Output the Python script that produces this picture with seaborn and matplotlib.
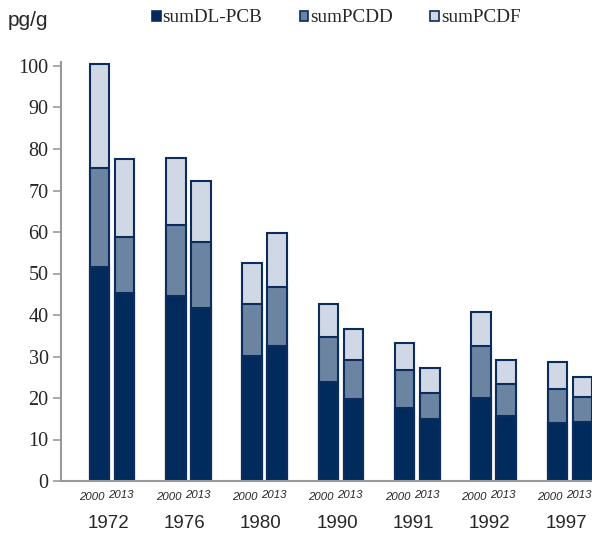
import matplotlib
matplotlib.use("Agg")
import matplotlib.pyplot as plt
import pandas as pd
import seaborn as sns
from matplotlib.patches import Patch

# ---- data ----
years = ["1972", "1976", "1980", "1990", "1991", "1992", "1997"]
samples = ["2000", "2013"]
series = ["sumDL-PCB", "sumPCDD", "sumPCDF"]

pcb_2000 = [51.6, 44.6, 30.1, 23.9, 17.6, 20.0, 14.0]
pcb_2013 = [45.3, 41.7, 32.5, 19.8, 14.9, 15.7, 14.3]
pcdd_2000 = [23.8, 17.1, 12.5, 10.8, 9.1, 12.5, 8.1]
pcdd_2013 = [13.5, 15.9, 14.2, 9.4, 6.3, 7.6, 5.9]
pcdf_2000 = [25.1, 16.1, 9.9, 7.9, 6.5, 8.2, 6.6]
pcdf_2013 = [18.8, 14.7, 13.1, 7.4, 6.0, 5.9, 4.9]

y_ticks = [0, 10, 20, 30, 40, 50, 60, 70, 80, 90, 100]
unit_label = "pg/g"

colors = {"sumDL-PCB": "#022b5d", "sumPCDD": "#6a84a2", "sumPCDF": "#cfd8e4"}
edge = "#0c2c5c"

rows = []
for i, y in enumerate(years):
    for s, pcb, pcdd, pcdf in (("2000", pcb_2000, pcdd_2000, pcdf_2000),
                               ("2013", pcb_2013, pcdd_2013, pcdf_2013)):
        rows.append({"year": y, "sample": s,
                     "sumDL-PCB": pcb[i], "sumPCDD": pcdd[i], "sumPCDF": pcdf[i]})
df = pd.DataFrame(rows)
df["c1"] = df["sumDL-PCB"]
df["c2"] = df["c1"] + df["sumPCDD"]
df["c3"] = df["c2"] + df["sumPCDF"]

sns.set_theme(style="white")
plt.rcParams["font.family"] = ["Liberation Serif", "DejaVu Sans"]

fig = plt.figure(figsize=(5.92, 5.35), dpi=100)
ax = fig.add_axes([61 / 592, 54 / 535, 531 / 592, 101 * 4.15 / 535])

for col, name in (("c3", "sumPCDF"), ("c2", "sumPCDD"), ("c1", "sumDL-PCB")):
    sns.barplot(data=df, x="year", y=col, hue="sample", order=years,
                hue_order=samples, palette={s: colors[name] for s in samples},
                width=0.656, gap=0.22, edgecolor=edge, linewidth=1.5,
                errorbar=None, legend=False, ax=ax, saturation=1)

ax.set_xlim(-0.668, 6.29)
ax.set_ylim(0, 101)
ax.set_yticks(y_ticks)
ax.set_yticklabels([str(t) for t in y_ticks], fontsize=14.5,
                   family=["Liberation Serif"])
ax.set_xlabel("")
ax.set_ylabel("")
ax.set_xticks([i - 0.05 for i in range(len(years))])
ax.set_xticklabels(years, fontsize=13.5, family=["Liberation Sans"])
ax.tick_params(axis="x", length=0, pad=24.5)
ax.tick_params(axis="y", length=6, width=1.2, color="#999999", pad=3, left=True)

for side in ("top", "right"):
    ax.spines[side].set_visible(False)
for side in ("left", "bottom"):
    ax.spines[side].set_color("#999999")
    ax.spines[side].set_linewidth(1.5)

# sub labels 2000 / 2013 under each bar (from bar positions of last layer)
last = ax.patches[-2 * len(years):]
shift = {"2000": -0.095, "2013": -0.045}
for j, p in enumerate(last):
    cx = p.get_x() + p.get_width() / 2
    lab = samples[j // len(years)]
    dy = -3.8 if lab == "2000" else -3.4
    ax.text(cx + shift[lab], dy, lab, ha="center", va="center", fontsize=8.2,
            style="italic", family=["Liberation Sans"],
            transform=ax.transData, clip_on=False)

fig.text(8 / 592, 1 - 21 / 535, unit_label, ha="left", va="center",
         fontsize=15, family=["Liberation Sans"])

handles = [Patch(facecolor=colors[s], edgecolor=edge, linewidth=1.2, label=s)
           for s in series]
fig.legend(handles=handles, loc="center left",
           bbox_to_anchor=(152 / 592, 1 - 18 / 535),
           ncol=3, frameon=False, handlelength=0.45,
           handleheight=0.45, handletextpad=0.1, columnspacing=1.95,
           borderaxespad=0, borderpad=0,
           prop={"family": "Liberation Serif", "size": 13.8})

fig.savefig("out.png", dpi=100)
